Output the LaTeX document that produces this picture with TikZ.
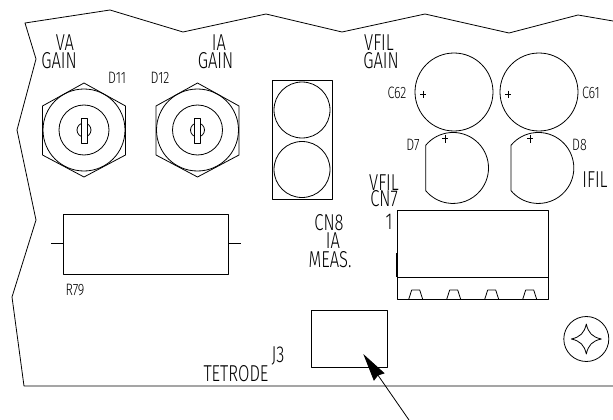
\documentclass[tikz,border=0pt]{standalone}
\usepackage{fontspec}
\setmainfont{Fira Sans Light}
\usetikzlibrary{arrows.meta}
\tikzset{
  ln/.style={draw=black,line width=0.8pt,line join=round},
  big/.style={inner sep=0pt,transform shape,xscale=.72,font=\fontsize{23}{23}\selectfont,text=black},
  small/.style={inner sep=0pt,transform shape,xscale=.76,font=\fontsize{16.5}{16.5}\selectfont,text=black},
}
\begin{document}
\begin{tikzpicture}[x=1pt,y=-1pt]
\useasboundingbox (0,0) rectangle (613,420);
\fill[white] (0,0) rectangle (613,420);
% board outline
\draw[ln] (613,21) -- (578,15) -- (509,33) -- (425,14) -- (342,32) -- (266,14) -- (183,32) -- (110,10) -- (25,23) -- (36,59) -- (17,130) -- (36,220) -- (12,297) -- (24,386) -- (613,386);
% trimmers
\foreach \cx in {84,197.5}{
  \draw[ln] (\cx,83) -- (\cx+41.5,106) -- (\cx+41.5,155) -- (\cx,177) -- (\cx-41.5,155) -- (\cx-41.5,106) -- cycle;
  \draw[ln] (\cx,130) circle[radius=41];
  \draw[ln] (\cx,130) circle[radius=25];
  \draw[ln] (\cx,130) circle[radius=7];
  \draw[ln,fill=white] (\cx-3,118) rectangle (\cx+3,143);
}
% CN8
\draw[ln] (272,80) rectangle (332,199);
\draw[ln] (302,110) circle[radius=28];
\draw[ln] (302,169.5) circle[radius=28];
% capacitors
\draw[ln] (454,92) circle[radius=39];
\draw[ln] (539,92) circle[radius=39];
\draw[ln] (420,94) -- (426,94) (423,90.5) -- (423,97.5);
\draw[ln] (505,94) -- (511,94) (508,90.5) -- (508,97.5);
% diodes
\draw[ln] (425.7,190.7) -- (425.7,145.3) arc[start angle=219.7,end angle=500.3,radius=35.5];
\draw[ln] (511,190.7) -- (511,145.3) arc[start angle=219.7,end angle=500.3,radius=35.5];
\draw[ln] (442,138) -- (448,138) (445,134.5) -- (445,142.5);
\draw[ln] (527,138) -- (533,138) (530,134.5) -- (530,142.5);
% CN7
\draw[ln] (397,210) rectangle (548.5,299.3);
\draw[ln] (397,277) -- (548.5,277);
\draw[draw=black,line width=1.4pt] (397,253) -- (397,277);
\foreach \tx in {408.7,446.7,484.7,522.7}{
  \draw[ln] (\tx,299.3) -- (\tx+3,290) -- (\tx+11,290) -- (\tx+14,299.3);
}
% R79
\draw[ln] (63.3,214.3) rectangle (228,274);
\draw[ln] (51,243.7) -- (63.3,243.7) (228,243.7) -- (240.7,243.7);
% J3
\draw[ln] (311.7,310.7) rectangle (387.3,367);
% screw
\draw[ln] (586.3,339) circle[radius=22.5];
\draw[ln] (601.3,339) .. controls (592.3,337) and (588.3,333) .. (586.3,324)
  .. controls (584.3,333) and (580.3,337) .. (571.3,339)
  .. controls (580.3,341) and (584.3,345) .. (586.3,354)
  .. controls (588.3,345) and (592.3,341) .. (601.3,339) -- cycle;
% arrow
\coordinate (tail) at (409,420);
\coordinate (tip) at (363.3,354);
\draw[line width=0.8pt,-{Stealth[length=28pt,width=13pt,inset=2pt]}] (tail) -- (tip);
% labels
\node[big] (va) at (65,43) {VA};
\node[big] (g1) at (59,61) {GAIN};
\node[big] (ia) at (219,43) {IA};
\node[big] (g2) at (215.5,61) {GAIN};
\node[big] (vf) at (379,43) {VFIL};
\node[big] (g3) at (381,61) {GAIN};
\node[small] (d11) at (117,78) {D11};
\node[small] (d12) at (160,78) {D12};
\node[small] (c62) at (397,93) {C62};
\node[small] (c61) at (591,93) {C61};
\node[small] (d7) at (413,145) {D7};
\node[small] (d8) at (579.5,145) {D8};
\node[small] (r79) at (75,290) {R79};
\node[big] (ifil) at (595,180) {IFIL};
\node[big] (vf2) at (384,183) {VFIL};
\node[big] (cn7) at (384,199) {CN7};
\node[big] (one) at (389,222) {1};
\node[big] (cn8) at (329,223) {CN8};
\node[big] (ia2) at (333,241) {IA};
\node[big] (meas) at (330,260) {MEAS.};
\node[big] (tet) at (236,374) {TETRODE};
\node[big] (j3) at (278,356) {J3};
\end{tikzpicture}
\end{document}
